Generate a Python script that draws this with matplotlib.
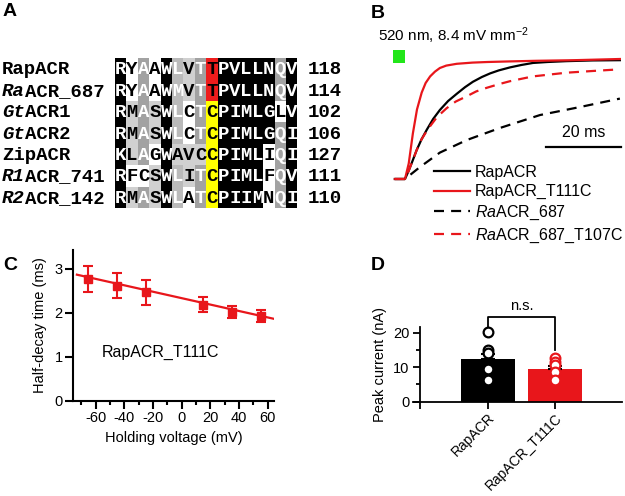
import numpy as np
import matplotlib
matplotlib.use("Agg")
import matplotlib.pyplot as plt
from matplotlib.colors import ListedColormap
from matplotlib.patches import Rectangle

plt.rcParams['font.family'] = ['Liberation Sans', 'DejaVu Sans']
plt.rcParams['mathtext.fontset'] = 'custom'
plt.rcParams['mathtext.rm'] = 'Liberation Sans'
plt.rcParams['mathtext.it'] = 'Liberation Sans:italic'
plt.rcParams['axes.unicode_minus'] = False

# ---------------- data ----------------
# Panel A: alignment
seq_prefix_italic = ['', 'Ra', 'Gt', 'Gt', '', 'R1', 'R2']
seq_name_rest = ['RapACR', 'ACR_687', 'ACR1', 'ACR2', 'ZipACR', 'ACR_741', 'ACR_142']
seq_residues = ['RYAAWLVTTPVLLNQV',
                'RYAAWMVTTPVLLNQV',
                'RMASWLCTCPIMLGLV',
                'RMASWLCTCPIMLGQI',
                'KLAGWAVCCPIMLIQI',
                'RFCSWLITCPIMLFQV',
                'RMASWLATCPIIMNQI']
seq_end_numbers = [118, 114, 102, 106, 127, 111, 110]
# shading level per residue: 0 none, 1 light grey, 2 grey (white text),
# 3 dark grey (white text), 4 black, 5 red, 6 yellow
shade_levels = [
    [4, 0, 3, 0, 4, 2, 1, 3, 5, 4, 4, 4, 4, 4, 3, 4],
    [4, 0, 3, 0, 4, 2, 1, 3, 5, 4, 4, 4, 4, 4, 3, 4],
    [4, 1, 3, 1, 4, 2, 0, 3, 6, 4, 4, 4, 4, 4, 0, 4],
    [4, 1, 3, 1, 4, 2, 0, 3, 6, 4, 4, 4, 4, 4, 3, 4],
    [4, 1, 3, 0, 4, 1, 1, 1, 6, 4, 4, 4, 4, 0, 3, 4],
    [4, 0, 0, 1, 4, 2, 1, 3, 6, 4, 4, 4, 4, 0, 3, 4],
    [4, 1, 3, 1, 4, 2, 0, 3, 6, 4, 4, 4, 4, 0, 3, 4],
]

# Panel B: normalised photocurrent traces (time in ms)
t_rap = [-2.7, 0, 1, 2, 3.1, 4.4, 5.8, 7.5, 9.3, 11.5, 13.8, 16, 18.1, 20.5, 22.7, 25,
         28, 31, 34.1, 38, 43, 50, 57.3]
v_rap = [0, 0, 0.07, 0.15, 0.24, 0.33, 0.41, 0.50, 0.575, 0.65, 0.71, 0.765, 0.81, 0.85,
         0.88, 0.905, 0.93, 0.95, 0.967, 0.975, 0.982, 0.988, 0.99]
t_t111c = [-2.7, 0, 1, 2.1, 3.2, 4.45, 5.5, 6.7, 8, 9.3, 11, 13.8, 18, 22, 28, 35, 45, 57.3]
v_t111c = [0, 0, 0.13, 0.38, 0.58, 0.72, 0.80, 0.855, 0.895, 0.925, 0.945, 0.96, 0.97,
           0.975, 0.98, 0.985, 0.99, 1.0]
t_ra687 = [-2.7, 0, 2, 4, 9.3, 16.5, 25.3, 36, 46.7, 57.3]
v_ra687 = [0, 0, 0.05, 0.10, 0.22, 0.325, 0.425, 0.533, 0.60, 0.67]
t_ra687_t107c = [-2.7, 0, 1, 2, 3.1, 4.4, 5.8, 6.7, 8.5, 11.1, 13.5, 16.5, 19, 21.8, 25,
                 28, 34.1, 43.1, 50, 57.3]
v_ra687_t107c = [0, 0, 0.07, 0.15, 0.24, 0.33, 0.40, 0.44, 0.515, 0.59, 0.645, 0.69,
                 0.73, 0.76, 0.79, 0.815, 0.855, 0.886, 0.90, 0.914]
trace_labels = ['RapACR', 'RapACR_T111C', r'$\it{Ra}$ACR_687', r'$\it{Ra}$ACR_687_T107C']
scalebar_ms = 20

# Panel C: half-decay time vs holding voltage
hold_mv = [-65, -45, -25, 15, 35, 55]
half_decay = [2.76, 2.61, 2.46, 2.18, 2.02, 1.92]
half_decay_err = [0.29, 0.29, 0.29, 0.17, 0.14, 0.14]
fit_mv = [-73, 64]
fit_decay = [2.86, 1.86]

# Panel D: peak currents
groups = ['RapACR', 'RapACR_T111C']
peak_mean = [12.3, 9.4]
peak_sem = [1.5, 0.9]
peak_points = [[20.1, 15.0, 14.0, 9.4, 6.2], [12.5, 11.4, 10.5, 8.7, 6.2]]
ns_bracket = [21.7, 24.6, 15.0]

RED = '#e8161b'

# ---------------- figure ----------------
W, H = 625, 496
fig = plt.figure(figsize=(W / 100, H / 100), dpi=100)


def box(l, t, r, b):
    return [l / W, 1 - b / H, (r - l) / W, (b - t) / H]


# panel labels
for lab, (px, py) in zip('ABCD', [(10, 11), (378, 14), (10, 265), (378, 265)]):
    fig.text(px / W, 1 - py / H, lab, fontsize=14, fontweight='bold', ha='center', va='center')

# ---------- Panel A ----------
colw = 11.4
axA = fig.add_axes(box(115, 58, 115 + 16 * colw, 208))
cmap = ListedColormap(['white', '#d0d0d0', '#bababa', '#a2a2a2', 'black', '#ee1c1c', '#ffff00'])
sh = np.array(shade_levels)
axA.pcolormesh(np.arange(sh.shape[1] + 1), np.arange(sh.shape[0] + 1), sh, cmap=cmap,
               vmin=-0.5, vmax=6.5)
axA.set_xlim(0, 16)
axA.set_ylim(7, 0)
axA.axis('off')
mono_fs = colw / 0.6 * 72 / 100
for i, seq in enumerate(seq_residues):
    for j, ch in enumerate(seq):
        lvl = shade_levels[i][j]
        col = 'white' if lvl in (2, 3, 4) else 'black'
        axA.text(j + 0.5, i + 0.55, ch, ha='center', va='center', family='Liberation Mono',
                 fontweight='bold', fontsize=mono_fs, color=col, clip_on=False)
    x0 = (2 - 115) / colw
    pre = seq_prefix_italic[i]
    if pre:
        axA.text(x0, i + 0.55, pre, ha='left', va='center', family='Liberation Mono',
                 fontweight='bold', style='italic', fontsize=mono_fs, clip_on=False)
    axA.text(x0 + len(pre), i + 0.55, seq_name_rest[i], ha='left', va='center',
             family='Liberation Mono', fontweight='bold', fontsize=mono_fs, clip_on=False)
    axA.text((308 - 115) / colw, i + 0.55, str(seq_end_numbers[i]), ha='left', va='center',
             family='Liberation Mono', fontweight='bold', fontsize=mono_fs, clip_on=False)

# ---------- Panel B ----------
axB = fig.add_axes(box(385, 25, 625, 250))
axB.set_xlim((385 - 405) / 3.75, (625 - 405) / 3.75)
axB.set_ylim((179 - 250) / 120, (179 - 25) / 120)
axB.axis('off')
lw = 1.6
dash = (0, (4.5, 3.2))
l1, = axB.plot(t_rap, v_rap, color='black', lw=lw)
l2, = axB.plot(t_t111c, v_t111c, color=RED, lw=lw)
l3, = axB.plot(t_ra687, v_ra687, color='black', lw=lw, ls=dash)
l4, = axB.plot(t_ra687_t107c, v_ra687_t107c, color=RED, lw=lw, ls=dash)
axB.add_patch(Rectangle((-3.2, 0.967), 3.2, 0.108, color='#22e61a', lw=0))
axB.text((378 - 405) / 3.75, (179 - 36) / 120, '520 nm, 8.4 mV mm$^{-2}$', fontsize=11,
         ha='left', va='center')
sb_end = 57.6
axB.plot([sb_end - scalebar_ms, sb_end], [0.267, 0.267], color='black', lw=1.6)
axB.text(sb_end - scalebar_ms / 2, 0.39, '%d ms' % scalebar_ms, fontsize=11.5, ha='center',
         va='center')
fig.legend([l1, l2, l3, l4], trace_labels, loc='upper left',
           bbox_to_anchor=(433.5 / W, 1 - 165 / H), frameon=False, fontsize=11.5,
           handlelength=2.3, handletextpad=0.3, labelspacing=0.27, borderpad=0,
           borderaxespad=0)

# ---------- Panel C ----------
axC = fig.add_axes(box(73, 250, 274, 400.7))
axC.plot(fit_mv, fit_decay, color=RED, lw=1.6)
axC.errorbar(hold_mv, half_decay, yerr=half_decay_err, fmt='s', color=RED, ms=6,
             capsize=3.8, elinewidth=1.5, capthick=1.5)
axC.set_xlim(-75.7, 64.3)
axC.set_ylim(0, 3.42)
axC.set_xticks([-60, -40, -20, 0, 20, 40, 60])
axC.set_xticks([-70, -50, -30, -10, 10, 30, 50], minor=True)
axC.set_yticks([0, 1, 2, 3])
for s in ['top', 'right']:
    axC.spines[s].set_visible(False)
for s in ['left', 'bottom']:
    axC.spines[s].set_linewidth(1.5)
axC.tick_params(which='major', direction='out', length=5.5, width=1.5, labelsize=10.5, pad=2)
axC.tick_params(which='minor', direction='out', length=3, width=1.5)
axC.set_xlabel('Holding voltage (mV)', fontsize=10.5, labelpad=4)
axC.set_ylabel('Half-decay time (ms)', fontsize=10.5, labelpad=5)
axC.text(-55.5, 1.1, 'RapACR_T111C', fontsize=11.5, ha='left', va='center')

# ---------- Panel D ----------
axD = fig.add_axes(box(413.3, 327, 621.7, 401.7))
xpos = np.arange(len(groups))
axD.bar(xpos, peak_mean, width=0.8, color=['black', RED], zorder=1)
axD.errorbar(xpos, peak_mean, yerr=[[0, 0], peak_sem], fmt='none', ecolor='black',
             elinewidth=1.5, capsize=5, capthick=1.5, zorder=2)
for k, pts in enumerate(peak_points):
    axD.plot([xpos[k]] * len(pts), pts, 'o', ms=7, mfc='white',
             mec=['black', RED][k], mew=1.6, zorder=3, clip_on=False)
axD.plot([0, 0, 1, 1], [ns_bracket[0], ns_bracket[1], ns_bracket[1], ns_bracket[2]],
         color='black', lw=1.3, clip_on=False)
axD.text(0.5, 27.7, 'n.s.', ha='center', va='center', fontsize=10.5)
axD.set_xlim(-1.105, 1.99)
axD.set_ylim(0, 21.6)
axD.spines['left'].set_position(('data', -1.0))
for s in ['top', 'right']:
    axD.spines[s].set_visible(False)
for s in ['left', 'bottom']:
    axD.spines[s].set_linewidth(1.3)
axD.set_yticks([0, 10, 20])
axD.set_yticks([5, 15], minor=True)
axD.set_xticks([-1.0, 0, 1])
axD.set_xticklabels([''] + groups, rotation=45, ha='right', va='top', rotation_mode='anchor')
axD.tick_params(which='both', direction='out', length=5, width=1.3, labelsize=10.5, pad=3)
axD.tick_params(axis='x', labelsize=10, pad=1.5)
axD.tick_params(which='minor', length=3)
axD.set_ylabel('Peak current (nA)', fontsize=10.5, labelpad=4)

fig.savefig('out.png', dpi=100)
